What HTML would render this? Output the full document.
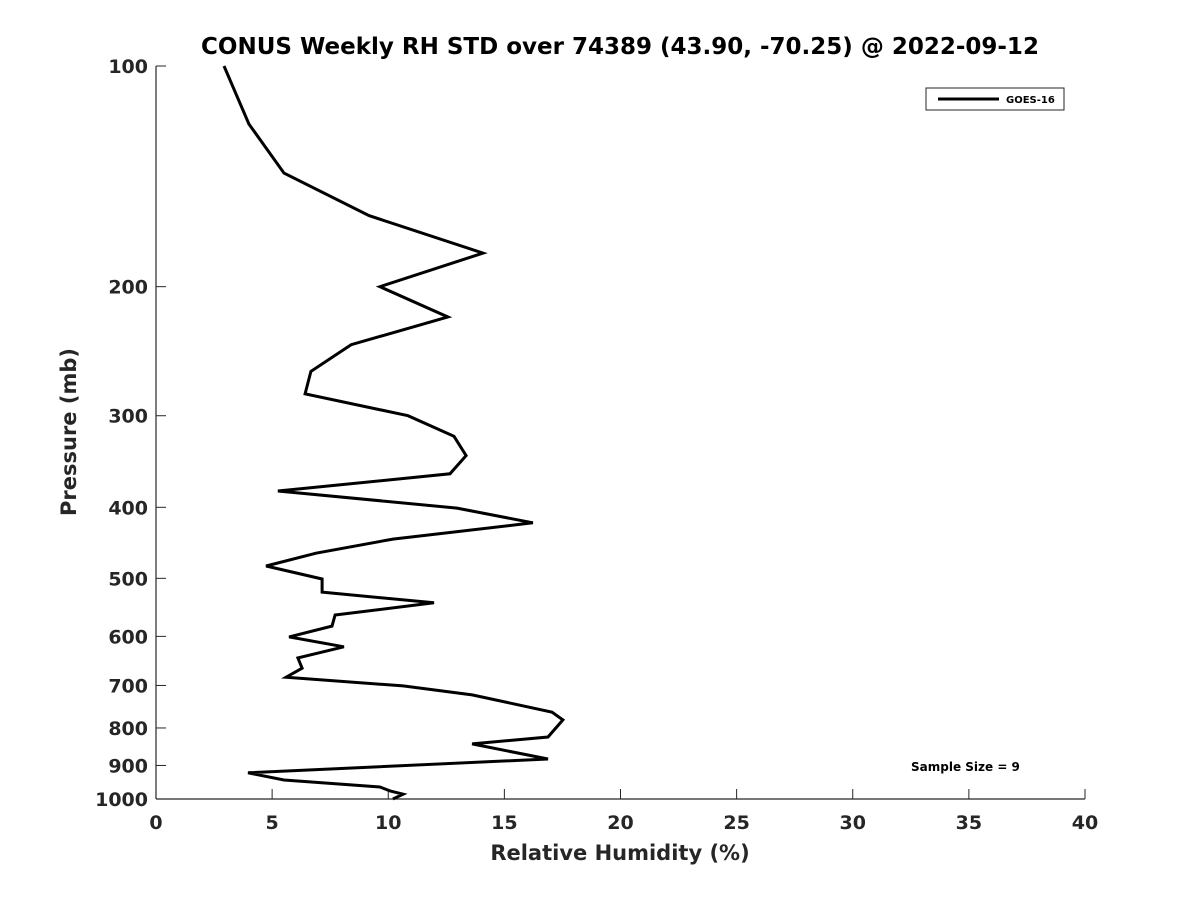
<!DOCTYPE html>
<html><head><meta charset="utf-8"><style>
body{margin:0;background:#fff;}
svg text{font-family:"DejaVu Sans","Liberation Sans",sans-serif;font-weight:bold;fill:#262626;}
</style></head><body>
<svg id="chart" width="1200" height="900" xmlns="http://www.w3.org/2000/svg">
<rect width="1200" height="900" fill="#fff"/>
<text x="620" y="54" font-size="23" text-anchor="middle" style="fill:#000">CONUS Weekly RH STD over 74389 (43.90, -70.25) @ 2022-09-12</text>
<g id="axes"></g>
<path id="series" fill="none" stroke="#000" stroke-width="3" stroke-linejoin="miter"/>
<g>
<rect x="926" y="88" width="138" height="22" fill="#fff" stroke="#262626" stroke-width="1"/>
<line x1="938" y1="99" x2="999" y2="99" stroke="#000" stroke-width="3"/>
<text x="1006" y="103" font-size="10" style="fill:#000">GOES-16</text>
</g>
<text x="911" y="771" font-size="12" style="fill:#000">Sample Size = 9</text>
<text x="620" y="860" font-size="21" text-anchor="middle">Relative Humidity (%)</text>
<text transform="translate(76,432) rotate(-90)" font-size="21" text-anchor="middle">Pressure (mb)</text>
</svg>
<script>
const rhValues=[2.93,4.00,5.51,9.17,14.08,9.64,12.57,8.40,6.67,6.42,10.85,12.83,13.35,12.66,5.25,12.96,16.23,10.20,6.89,4.74,7.15,7.15,11.97,7.71,7.58,5.73,8.09,6.11,6.29,5.60,10.64,13.61,17.05,17.52,16.88,13.61,16.88,3.96,5.51,9.64,10.08,10.64,10.20];
const pressureLevels=[100,120,140,160,180,200,220,240,261,280,300,320,340,360,380,401,420,442,462,481,501,522,540,561,581,601,620,642,663,682,701,721,761,780,823,841,882,921,942,963,975,985,1000];
const xTicks=[0,5,10,15,20,25,30,35,40];
const yTicks=[100,200,300,400,500,600,700,800,900,1000];
const X0=156,X1=1085,Y0=66,Y1=799;
function xs(v){return X0+(v-0)/(40-0)*(X1-X0);}
function ys(p){return Y0+(Math.log10(p)-2)/1*(Y1-Y0);}
const NS="http://www.w3.org/2000/svg";
const ax=document.getElementById('axes');
function mk(t,a){const e=document.createElementNS(NS,t);for(const k in a)e.setAttribute(k,a[k]);ax.appendChild(e);return e;}
let l=mk('line',{x1:X0,y1:Y0,x2:X0,y2:Y1,stroke:'#262626','stroke-width':1.2});


l=mk('line',{x1:X0,y1:Y1,x2:X1,y2:Y1,stroke:'#262626','stroke-width':1.2});


xTicks.forEach(v=>{
 const t=mk('line',{x1:xs(v),y1:Y1,x2:xs(v),y2:Y1-10,stroke:'#262626','stroke-width':1});
 
 
 const tx=mk('text',{x:xs(v),y:Y1+30,'font-size':19,'text-anchor':'middle'});
 tx.textContent=v;
 
 
});
yTicks.forEach(p=>{
 const t=mk('line',{x1:X0,y1:ys(p),x2:X0+10,y2:ys(p),stroke:'#262626','stroke-width':1});
 
 
 const tx=mk('text',{x:X0-8,y:ys(p)+7,'font-size':19,'text-anchor':'end'});
 tx.textContent=p;
 
 
});
document.getElementById('series').setAttribute('d',rhValues.map((v,i)=>(i?'L':'M')+xs(v).toFixed(1)+','+ys(pressureLevels[i]).toFixed(1)).join(' '));
</script>
</body></html>
